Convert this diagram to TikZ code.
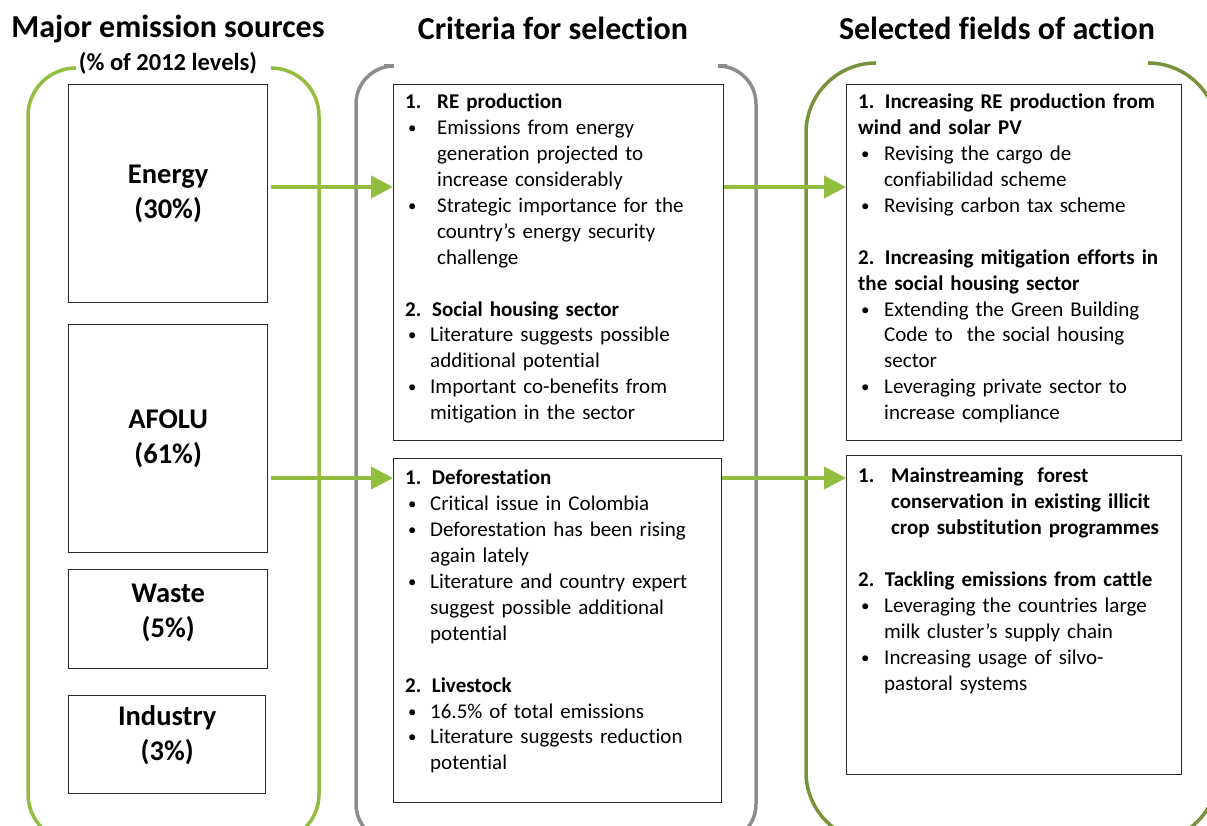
\documentclass[tikz,border=0pt]{standalone}
\usepackage{fontspec}
\setmainfont{Carlito}[Ligatures=NoCommon]
\usetikzlibrary{arrows.meta}

\definecolor{lightgreen}{RGB}{145,190,62}
\definecolor{olivegreen}{RGB}{118,146,58}
\definecolor{bracketgray}{RGB}{140,140,140}
\definecolor{boxline}{RGB}{40,40,40}

% bullet line with hanging indent: #1 = text indent
\newcommand{\bitem}[1]{\par\hangindent=#1\hangafter=1\noindent\makebox[#1][l]{\hspace{3pt}\raisebox{1pt}{\scalebox{0.8}{\textbullet}}}\ignorespaces}
% numbered bold heading with hanging indent
\newcommand{\nhead}[3]{\par\hangindent=#1\hangafter=1\noindent\makebox[#1][l]{\textbf{#2}}\textbf{#3}}
\newcommand{\gapline}{\par\vskip\baselineskip}

\begin{document}
\begin{tikzpicture}[x=1pt,y=-1pt,
  srcbox/.style={draw=boxline,line width=1.3pt,anchor=north west,inner sep=0pt},
  srclabel/.style={inner sep=0pt,align=center,font=\fontsize{28.5}{35}\selectfont\bfseries},
  listbox/.style={draw=boxline,line width=1.3pt,anchor=north west,inner sep=0pt},
  listtext/.style={anchor=base west,inner sep=0pt,text width=340pt,align=left,
    font=\fontsize{21}{25.9}\selectfont},
  title/.style={anchor=base,inner sep=0pt,font=\fontsize{32}{36}\selectfont\bfseries},
  bracket/.style={line width=3.5pt},
  flow/.style={lightgreen,line width=4pt,-{Triangle[length=22pt,width=22pt]}}]

\useasboundingbox (0,0) rectangle (1207,826);
\clip (0,0) rectangle (1207,826);

% column headings
\node[title] (t1) at (168,38) {Major emission sources};
\node[title] (t2) at (553,40) {Criteria for selection};
\node[title] (t3) at (997,40) {Selected fields of action};
\node[anchor=base,inner sep=0pt,font=\fontsize{24.5}{28}\selectfont\bfseries] (lv) at (168,71) {(\% of 2012 levels)};

% open-topped brackets around each column
\draw[bracket,lightgreen,rounded corners=48pt] (75,68) -- (28,68) -- (28,842) -- (319,842) -- (319,68) -- (272,68);
\draw[bracket,bracketgray,rounded corners=38pt] (384,66) -- (356,66) -- (356,842) -- (756,842) -- (756,66) -- (727,66);
\draw[bracket,olivegreen,rounded corners=70pt] (875,63) -- (806,63) -- (806,842) -- (1218,842) -- (1218,63) -- (1150,63);

% emission sources
\node[srcbox,minimum width=199pt,minimum height=218pt] (energy) at (68,84) {};
\node[srcbox,minimum width=199pt,minimum height=228pt] (afolu) at (68,324) {};
\node[srcbox,minimum width=199pt,minimum height=99pt] (waste) at (68,569) {};
\node[srcbox,minimum width=197pt,minimum height=98pt] (industry) at (68,695) {};
\node[srclabel] (energylbl) at (energy.center) {Energy\\(30\%)};
\node[srclabel] (afolulbl) at (afolu.center) {AFOLU\\(61\%)};
\node[srclabel] (wastelbl) at ([yshift=6pt]waste.center) {Waste\\(5\%)};
\node[srclabel] (industrylbl) at ([yshift=9pt]industry.center) {Industry\\(3\%)};

% criteria boxes
\node[listbox,minimum width=330pt,minimum height=356pt] (crit1) at (393,84) {};
\node[listbox,minimum width=328pt,minimum height=344pt] (crit2) at (393,458) {};
% action boxes
\node[listbox,minimum width=335pt,minimum height=356pt] (act1) at (846,84) {};
\node[listbox,minimum width=335pt,minimum height=319pt] (act2) at (846,455) {};

\node[listtext] (crit1txt) at (405,83) {%
\nhead{32pt}{1.}{RE production}
\bitem{32pt}Emissions from energy\newline generation projected to\newline increase considerably
\bitem{32pt}Strategic importance for the\newline country’s energy security\newline challenge
\gapline
\nhead{27pt}{2.}{Social housing sector}
\bitem{25pt}Literature suggests possible\newline additional potential
\bitem{25pt}Important co-benefits from\newline mitigation in the sector\par};

\node[listtext] (crit2txt) at (405,459) {%
\par\noindent\textbf{1. Deforestation}
\bitem{25pt}Critical issue in Colombia
\bitem{25pt}Deforestation has been rising\newline again lately
\bitem{25pt}Literature and country expert\newline suggest possible additional\newline potential
\gapline
\par\noindent\textbf{2. Livestock}
\bitem{25pt}16.5\% of total emissions
\bitem{25pt}Literature suggests reduction\newline potential\par};

\node[listtext] (act1txt) at (858,83) {%
\par\noindent\textbf{1. Increasing RE production from\newline wind and solar PV}
\bitem{26pt}Revising the cargo de\newline confiabilidad scheme
\bitem{26pt}Revising carbon tax scheme
\gapline
\par\noindent\textbf{2. Increasing mitigation efforts in\newline the social housing sector}
\bitem{26pt}Extending the Green Building\newline Code to\ \ the social housing\newline sector
\bitem{26pt}Leveraging private sector to\newline increase compliance\par};

\node[listtext] (act2txt) at (858,457) {%
\nhead{33pt}{1.}{Mainstreaming\ \ forest\newline conservation in existing illicit\newline crop substitution programmes}
\gapline
\par\noindent\textbf{2. Tackling emissions from cattle}
\bitem{26pt}Leveraging the countries large\newline milk cluster’s supply chain
\bitem{26pt}Increasing usage of silvo-\newline pastoral systems\par};

% flow arrows
\coordinate (rowA) at (0,187);
\coordinate (rowB) at (0,478);
\draw[flow] ([xshift=3pt]energy.east |- rowA) -- (crit1.west |- rowA);
\draw[flow] (crit1.east |- rowA) -- (act1.west |- rowA);
\draw[flow] ([xshift=3pt]afolu.east |- rowB) -- (crit2.west |- rowB);
\draw[flow] (crit2.east |- rowB) -- (act2.west |- rowB);
\end{tikzpicture}
\end{document}
